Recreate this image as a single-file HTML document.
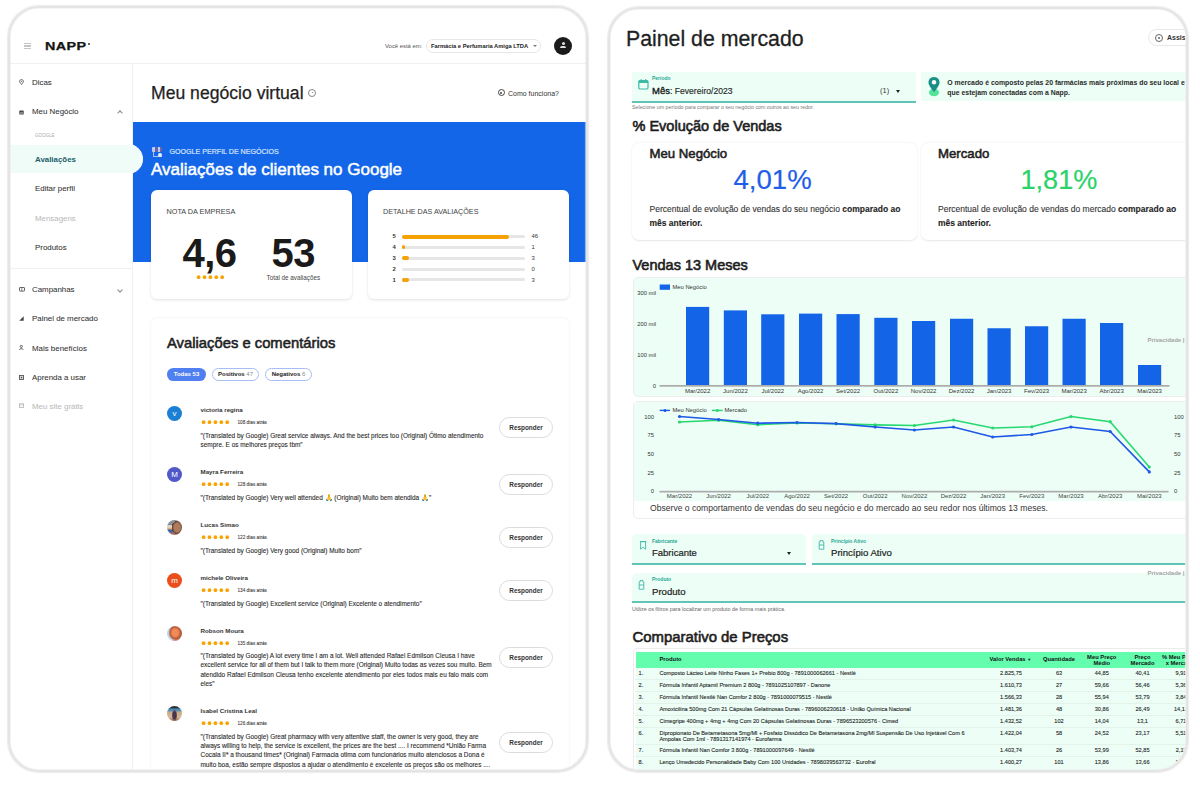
<!DOCTYPE html>
<html><head><meta charset="utf-8">
<style>
*{margin:0;padding:0;box-sizing:border-box}
html,body{width:1200px;height:794px;overflow:hidden;background:#fff;font-family:"Liberation Sans",sans-serif;color:#222}
.a{position:absolute}
.t{position:absolute;white-space:nowrap;line-height:1}
.b{font-weight:bold}
.clipL{position:absolute;left:0;top:0;width:1200px;height:794px;clip-path:inset(8px 614px 24px 10px round 29px)}
.clipR{position:absolute;left:0;top:0;width:1200px;height:794px;clip-path:inset(9px 14.5px 24px 610px round 29px)}
.fb{position:absolute;border:2px solid #e4e4e4;border-radius:31px;box-shadow:0 0 1px 0.6px #ececec, inset 0 0 1px 0.6px #ececec}
.side{color:#333;font-size:7.9px;-webkit-text-stroke-width:0.06px}
.sico{position:absolute;width:6px;height:6px}
.card{position:absolute;background:#fff;border-radius:6px;box-shadow:0 1px 3px rgba(0,0,0,0.12)}
.bar{position:absolute;height:3px;background:#e6e6e6;border-radius:2px}
.bo{position:absolute;height:4px;background:#f5a100;border-radius:2px}
.stars{position:absolute;color:#f5a100;font-size:6px;letter-spacing:0.6px;line-height:1;white-space:nowrap}
.av{position:absolute;width:15px;height:15px;border-radius:50%;color:#fff;font-size:8px;text-align:center;line-height:15px}
.rname{font-size:6.2px;font-weight:bold;color:#333}
.rdate{font-size:4.7px;color:#3a3a3a;-webkit-text-stroke-width:0.08px}
.rtxt{position:absolute;font-size:6.45px;line-height:9.4px;color:#2b2b2b;white-space:nowrap;-webkit-text-stroke-width:0.1px}
.resp{position:absolute;width:54px;height:21px;border:1px solid #dcdcdc;border-radius:11px;font-size:6.4px;font-weight:bold;color:#333;text-align:center;line-height:19px;background:#fff}
.tr{font-size:5.6px;color:#262626;-webkit-text-stroke-width:0.1px}
.th{font-size:5.8px;color:#111}
.tc{text-align:center;width:40px}
.pill{position:absolute;height:12.8px;border-radius:6.4px;font-size:6px;line-height:11.6px;text-align:center;font-weight:bold}
</style></head>
<body>
<svg width="0" height="0" style="position:absolute"><defs><circle id="st" cx="2.6" cy="3.2" r="1.85" fill="#f7a300"/><g id="st5"><use href="#st" x="0"/><use href="#st" x="5.9"/><use href="#st" x="11.8"/><use href="#st" x="17.7"/><use href="#st" x="23.6"/></g></defs></svg>
<!-- ================= LEFT FRAME ================= -->
<div class="clipL">
 <!-- header -->
 <div class="a" style="left:10px;top:63px;width:576px;height:1px;background:#f1f1f1"></div>
 <div class="a" style="left:24px;top:43px;width:7px;height:1.3px;background:#c4c4c4"></div>
 <div class="a" style="left:24px;top:45.3px;width:7px;height:1.3px;background:#c4c4c4"></div>
 <div class="a" style="left:24px;top:47.6px;width:7px;height:1.3px;background:#c4c4c4"></div>
 <div class="t b" style="left:45px;top:42.4px;font-size:10.2px;letter-spacing:0.25px;color:#151515;-webkit-text-stroke:0.25px #151515;transform:scaleX(1.41);transform-origin:0 0">NAPP</div>
 <div class="a" style="left:88px;top:43px;width:1.6px;height:1.8px;background:#333;border-radius:1px"></div>
 <div class="t" style="left:385px;top:44px;font-size:5.9px;color:#555">Você está em:</div>
 <div class="a" style="left:426px;top:39px;width:115px;height:14px;border:1px solid #e6e6e6;border-radius:7px"></div>
 <div class="t b" style="left:431px;top:44.2px;font-size:5.75px;color:#222">Farmácia e Perfumaria Amiga LTDA</div>
 <div class="a" style="left:533px;top:45px;width:0;height:0;border-left:2px solid transparent;border-right:2px solid transparent;border-top:2px solid #777"></div>
 <div class="a" style="left:554px;top:37px;width:18px;height:18px;border-radius:50%;background:#1b1b1b"></div>
 <div class="a" style="left:561.5px;top:42px;width:3px;height:3px;border-radius:50%;background:#e0e0e0"></div>
 <div class="a" style="left:560px;top:45.8px;width:6px;height:2.6px;border-radius:2px 2px 0 0;background:#e0e0e0"></div>

 <!-- sidebar -->
 <div class="a" style="left:131.5px;top:64px;width:1px;height:710px;background:#f1f1f1"></div>
 <div class="a" style="left:10px;top:268px;width:122px;height:1px;background:#f0f0f0"></div>
 <!-- highlight -->
 <div class="a" style="left:10px;top:144.5px;width:131.5px;height:28px;background:#f0fcf7;border-radius:0 14px 14px 0"></div>

 <svg class="a" style="left:18.5px;top:79px" width="5" height="6" viewBox="0 0 5 6"><path d="M2.5 0.6 C1.3 0.6 0.6 1.4 0.6 2.3 C0.6 3.5 2.5 5.5 2.5 5.5 C2.5 5.5 4.4 3.5 4.4 2.3 C4.4 1.4 3.7 0.6 2.5 0.6Z" fill="none" stroke="#555" stroke-width="0.9"/><circle cx="2.5" cy="2.3" r="0.6" fill="#555"/></svg>
 <div class="t side" style="left:32px;top:78.5px">Dicas</div>
 <svg class="a" style="left:18.5px;top:109.5px" width="5" height="5" viewBox="0 0 5 5"><rect x="0.3" y="0.6" width="4.4" height="4" rx="0.6" fill="#4a4a4a"/><rect x="1" y="2.6" width="3" height="0.8" fill="#ddd"/></svg>
 <div class="t side" style="left:32px;top:107.5px">Meu Negócio</div>
 <div class="a" style="left:117.5px;top:111px;width:4px;height:4px;border-left:0.8px solid #888;border-top:0.8px solid #888;transform:rotate(45deg)"></div>
 <div class="t" style="left:35px;top:133.5px;font-size:4.5px;color:#aaa">GOOGLE</div>
 <div class="t b" style="left:35px;top:155.7px;font-size:7.9px;color:#1c5f6a">Avaliações</div>
 <div class="t side" style="left:35px;top:185.2px">Editar perfil</div>
 <div class="t side" style="left:35px;top:215px;color:#bbb">Mensagens</div>
 <div class="t side" style="left:35px;top:244px">Produtos</div>

 <svg class="a" style="left:18.5px;top:286.5px" width="6" height="5" viewBox="0 0 6 5"><rect x="0.5" y="0.5" width="5" height="3.6" rx="0.5" fill="none" stroke="#555" stroke-width="0.9"/><line x1="2.8" y1="0.8" x2="2.8" y2="4" stroke="#555" stroke-width="0.7"/></svg>
 <div class="t side" style="left:32px;top:286.0px">Campanhas</div>
 <div class="a" style="left:117.5px;top:287.5px;width:4px;height:4px;border-right:0.8px solid #888;border-bottom:0.8px solid #888;transform:rotate(45deg)"></div>
 <svg class="a" style="left:18.5px;top:316px" width="5" height="5" viewBox="0 0 5 5"><path d="M0.3 4.7 L4.7 0.3 L4.7 4.7 Z" fill="#444"/></svg>
 <div class="t side" style="left:32px;top:315.0px">Painel de mercado</div>
 <svg class="a" style="left:18.5px;top:345px" width="5" height="5" viewBox="0 0 5 5"><circle cx="2.3" cy="1.4" r="1.1" fill="none" stroke="#555" stroke-width="0.9"/><path d="M0.4 4.8 C0.4 3.2 4.2 3.2 4.2 4.8" fill="none" stroke="#555" stroke-width="0.9"/></svg>
 <div class="t side" style="left:32px;top:344.5px">Mais benefícios</div>
 <svg class="a" style="left:18.5px;top:374.5px" width="5" height="5" viewBox="0 0 5 5"><rect x="0.5" y="0.5" width="4" height="4" fill="none" stroke="#555" stroke-width="0.9"/><rect x="1.6" y="1.6" width="1.8" height="1.8" fill="#555"/></svg>
 <div class="t side" style="left:32px;top:373.5px">Aprenda a usar</div>
 <svg class="a" style="left:18.5px;top:403px" width="5" height="5" viewBox="0 0 5 5"><rect x="0.5" y="0.8" width="4" height="3.7" fill="none" stroke="#bbb" stroke-width="0.9"/><line x1="0.5" y1="2" x2="4.5" y2="2" stroke="#bbb" stroke-width="0.6"/></svg>
 <div class="t side" style="left:32px;top:403.0px;color:#bbb">Meu site grátis</div>

 <!-- main title -->
 <div class="t" style="left:151px;top:85px;font-size:17.6px;color:#1f1f1f;-webkit-text-stroke-width:0.25px">Meu negócio virtual</div>
 <div class="a" style="left:308px;top:88.5px;width:8px;height:8px;border:1px solid #888;border-radius:50%"></div><div class="a" style="left:311.6px;top:91.8px;width:1.2px;height:1.6px;background:#888"></div>
 <div class="a" style="left:497.5px;top:89px;width:7px;height:7px;border:1.2px solid #444;border-radius:50%"></div>
 <div class="a" style="left:500px;top:91.5px;width:2px;height:2px;background:#444;border-radius:50%"></div>
 <div class="t" style="left:508px;top:90px;font-size:7px;color:#333">Como funciona?</div>

 <!-- blue banner -->
 <div class="a" style="left:133px;top:121.5px;width:460px;height:140.5px;background:#1366e8"></div>
 <div class="a" style="left:133px;top:262px;width:460px;height:520px;background:#fff"></div>
 <!-- highlight bump over banner -->
 <div class="a" style="left:118px;top:143.5px;width:24.5px;height:30px;background:#f0fcf7;border:1.2px solid #fff;border-left:none;border-radius:0 15px 15px 0"></div>

 <div class="a" style="left:152px;top:146.5px;width:3px;height:5px;background:#b9cdf3;border-radius:1px 0 0 1px"></div><div class="a" style="left:155px;top:146.5px;width:2.5px;height:5px;background:#6d63a8"></div><div class="a" style="left:157.5px;top:146.5px;width:2.5px;height:5px;background:#b9cdf3"></div><div class="a" style="left:160px;top:146.5px;width:2px;height:5px;background:#6d63a8;border-radius:0 1px 1px 0"></div><div class="a" style="left:152.5px;top:151.5px;width:9px;height:5px;border-left:1px solid #a8c0f0;border-bottom:1px solid #a8c0f0"></div><div class="a" style="left:158px;top:152.5px;width:4px;height:4px;background:#e8eefc;border-radius:50%"></div>
 <div class="t" style="left:169.5px;top:148.5px;font-size:7.1px;color:#d5e3fb;-webkit-text-stroke-width:0.2px">GOOGLE PERFIL DE NEGÓCIOS</div>
 <div class="t" style="left:151px;top:161px;font-size:17px;color:#fff;-webkit-text-stroke:0.5px #fff">Avaliações de clientes no Google</div>

 <!-- cards -->
 <div class="card" style="left:151px;top:190px;width:201px;height:109px"></div>
 <div class="t" style="left:166.5px;top:207.5px;font-size:7.3px;color:#444">NOTA DA EMPRESA</div>
 <div class="t b" style="left:182.5px;top:232.5px;font-size:40px;color:#1a1a1a;letter-spacing:-0.5px">4,6</div>
 <svg class="a" style="left:196.0px;top:273.8px" width="30" height="6"><use href="#st5"/></svg>
 <div class="t b" style="left:271.5px;top:232.5px;font-size:40px;color:#1a1a1a;letter-spacing:-0.5px">53</div>
 <div class="t" style="left:266.5px;top:274.5px;font-size:6.3px;color:#444">Total de avaliações</div>

 <div class="card" style="left:368px;top:190px;width:201px;height:109px"></div>
 <div class="t" style="left:383px;top:207.5px;font-size:7.2px;color:#444">DETALHE DAS AVALIAÇÕES</div>
 <div class="t b" style="left:392.5px;top:234.2px;font-size:5.9px;color:#333">5</div>
 <div class="bar" style="left:402px;top:235px;width:123px"></div><div class="bo" style="left:402px;top:234.5px;width:107px"></div>
 <div class="t" style="left:531.5px;top:234.2px;font-size:5.9px;color:#333">46</div>
 <div class="t b" style="left:392.5px;top:245px;font-size:5.9px;color:#333">4</div>
 <div class="bar" style="left:402px;top:245.5px;width:123px"></div><div class="bo" style="left:402px;top:245px;width:3px"></div>
 <div class="t" style="left:531.5px;top:245px;font-size:5.9px;color:#333">1</div>
 <div class="t b" style="left:392.5px;top:255.8px;font-size:5.9px;color:#333">3</div>
 <div class="bar" style="left:402px;top:256.5px;width:123px"></div><div class="bo" style="left:402px;top:256px;width:7px"></div>
 <div class="t" style="left:531.5px;top:255.8px;font-size:5.9px;color:#333">3</div>
 <div class="t b" style="left:392.5px;top:266.6px;font-size:5.9px;color:#333">2</div>
 <div class="bar" style="left:402px;top:267.5px;width:123px"></div>
 <div class="t" style="left:531.5px;top:266.6px;font-size:5.9px;color:#333">0</div>
 <div class="t b" style="left:392.5px;top:277.6px;font-size:5.9px;color:#333">1</div>
 <div class="bar" style="left:402px;top:278px;width:123px"></div><div class="bo" style="left:402px;top:277.5px;width:7px"></div>
 <div class="t" style="left:531.5px;top:277.6px;font-size:5.9px;color:#333">3</div>

 <!-- comments card -->
 <div class="card" style="left:151px;top:318px;width:418px;height:470px;box-shadow:0 0 2px rgba(0,0,0,0.10)"></div>
 <div class="t" style="left:167px;top:335.6px;font-size:14.8px;color:#1e1e1e;-webkit-text-stroke-width:0.55px">Avaliações e comentários</div>
 <div class="pill" style="left:167px;top:368px;width:39px;background:#4f7ff0;color:#fff;line-height:12.8px">Todas 53</div>
 <div class="pill" style="left:212px;top:368px;width:47px;border:1.2px solid #a6bdf6;color:#222">Positivos <span style="font-weight:normal;color:#888">47</span></div>
 <div class="pill" style="left:265px;top:368px;width:47px;border:1.2px solid #a6bdf6;color:#222">Negativos <span style="font-weight:normal;color:#888">6</span></div>

 <!-- reviews -->
 <div class="av" style="left:167px;top:405.5px;background:#1b7fd4">v</div>
 <div class="t rname" style="left:200.5px;top:406.8px">victoria regina</div>
 <svg class="a" style="left:200.5px;top:419.3px" width="30" height="6"><use href="#st5"/></svg>
 <div class="t rdate" style="left:237.5px;top:420.8px">108 dias atrás</div>
 <div class="rtxt" style="left:200.5px;top:430.5px">"(Translated by Google) Great service always. And the best prices too (Original) Ótimo atendimento<br>sempre. E os melhores preços tbm"</div>
 <div class="resp" style="left:499px;top:416.5px">Responder</div>

 <div class="av" style="left:167px;top:467px;background:#5159c9">M</div>
 <div class="t rname" style="left:200.5px;top:468.8px">Mayra Ferreira</div>
 <svg class="a" style="left:200.5px;top:481.3px" width="30" height="6"><use href="#st5"/></svg>
 <div class="t rdate" style="left:237.5px;top:482.8px">128 dias atrás</div>
 <div class="rtxt" style="left:200.5px;top:492.5px">"(Translated by Google) Very well attended 🙏 (Original) Muito bem atendida 🙏"</div>
 <div class="resp" style="left:499px;top:474px">Responder</div>

 <div class="av" style="left:167px;top:520px;background:radial-gradient(ellipse 35% 45% at 68% 50%,#b07a5e 0 60%,#5a3a2a 100%,transparent 101%),linear-gradient(180deg,#8a8f96 0 30%,#e6e6e6 40%,#e9b98a 55%,#2f62a6 70%,#c87a5a 100%)"></div>
 <div class="t rname" style="left:200.5px;top:521.8px">Lucas Simao</div>
 <svg class="a" style="left:200.5px;top:534.3px" width="30" height="6"><use href="#st5"/></svg>
 <div class="t rdate" style="left:237.5px;top:535.8px">122 dias atrás</div>
 <div class="rtxt" style="left:200.5px;top:546px">"(Translated by Google) Very good (Original) Muito bom"</div>
 <div class="resp" style="left:499px;top:526.5px">Responder</div>

 <div class="av" style="left:167px;top:573px;background:#ea4e1b">m</div>
 <div class="t rname" style="left:200.5px;top:574.8px">michele Oliveira</div>
 <svg class="a" style="left:200.5px;top:587.3px" width="30" height="6"><use href="#st5"/></svg>
 <div class="t rdate" style="left:237.5px;top:588.8px">134 dias atrás</div>
 <div class="rtxt" style="left:200.5px;top:598.5px">"(Translated by Google) Excellent service (Original) Excelente o atendimento"</div>
 <div class="resp" style="left:499px;top:580px">Responder</div>

 <div class="av" style="left:167px;top:625.5px;background:radial-gradient(ellipse 45% 50% at 55% 45%,#f08a58 0 45%,#b85a38 80%,transparent 100%),linear-gradient(90deg,#bcd4e6 0 30%,#d98060 60%,#a85a3a 100%)"></div>
 <div class="t rname" style="left:200.5px;top:627.8px">Robson Moura</div>
 <svg class="a" style="left:200.5px;top:640.3px" width="30" height="6"><use href="#st5"/></svg>
 <div class="t rdate" style="left:237.5px;top:641.8px">135 dias atrás</div>
 <div class="rtxt" style="left:200.5px;top:651px">"(Translated by Google) A lot every time I am a lot. Well attended Rafael Edmilson Cleusa I have<br>excellent service for all of them but I talk to them more (Original) Muito todas as vezes sou muito. Bem<br>atendido Rafael Edmilson Cleusa tenho excelente atendimento por eles todos mais eu falo mais com<br>eles"</div>
 <div class="resp" style="left:499px;top:646.5px">Responder</div>

 <div class="av" style="left:167px;top:706px;background:radial-gradient(ellipse 20% 40% at 50% 62%,#4a3550 0 60%,transparent 100%),linear-gradient(180deg,#2a3038 0 12%,#4a86b0 20%,#5a90b8 32%,#c9aa88 40%,#d8b896 75%,#a06a50 100%)"></div>
 <div class="t rname" style="left:200.5px;top:708.3px">Isabel Cristina Leal</div>
 <svg class="a" style="left:200.5px;top:720.3px" width="30" height="6"><use href="#st5"/></svg>
 <div class="t rdate" style="left:237.5px;top:721.8px">126 dias atrás</div>
 <div class="rtxt" style="left:200.5px;top:731.5px">"(Translated by Google) Great pharmacy with very attentive staff, the owner is very good, they are<br>always willing to help, the service is excellent, the prices are the best .... I recommend *União Farma<br>Cocaia II* a thousand times* (Original) Farmacia otima com funcionários muito atenciosos a Dona é<br>muito boa, estão sempre dispostos a ajudar o atendimento é excelente os preços são os melhores ....</div>
 <div class="resp" style="left:499px;top:731.5px">Responder</div>
</div>
<div class="fb" style="left:7.8px;top:6px;width:580.6px;height:766px"></div>

<!-- ================= RIGHT FRAME ================= -->
<div class="clipR">
 <div class="t" style="left:626px;top:28.8px;font-size:21.3px;color:#1f1f1f;-webkit-text-stroke-width:0.3px">Painel de mercado</div>
 <div class="a" style="left:1148px;top:29px;width:60px;height:17px;border:1px solid #e8e8e8;border-radius:9px"></div>
 <div class="a" style="left:1155px;top:33.5px;width:8px;height:8px;border:1px solid #666;border-radius:50%"></div>
 <div class="a" style="left:1158px;top:36.5px;width:2px;height:2px;background:#666;border-radius:50%"></div>
 <div class="t b" style="left:1167px;top:33.7px;font-size:7px;color:#333">Assistente</div>

 <!-- periodo -->
 <div class="a" style="left:632px;top:71.5px;width:284px;height:31.2px;background:#ecfef6;border-bottom:2px solid #60c5b6"></div>
 <svg class="a" style="left:637.5px;top:79px" width="11" height="11" viewBox="0 0 11 11"><rect x="0.8" y="1.6" width="9.2" height="8.4" rx="1.2" fill="none" stroke="#3fb8a6" stroke-width="1.2"/><rect x="0.8" y="1.6" width="9.2" height="2.4" fill="#3fb8a6"/><rect x="2.6" y="0.2" width="1.2" height="2" fill="#3fb8a6"/><rect x="7" y="0.2" width="1.2" height="2" fill="#3fb8a6"/></svg>
 <div class="t" style="left:652px;top:76px;font-size:5px;color:#2aa894;font-weight:bold">Período</div>
 <div class="t" style="left:652px;top:86.2px;font-size:8.6px;color:#2a2a2a;-webkit-text-stroke-width:0.15px"><span style="font-size:9.5px;color:#111;-webkit-text-stroke-width:0.3px">Mês</span>: Fevereiro/2023</div>
 <div class="t" style="left:880px;top:87px;font-size:7.5px;color:#333">(1)</div>
 <div class="a" style="left:895.5px;top:89.5px;width:0;height:0;border-left:2.5px solid transparent;border-right:2.5px solid transparent;border-top:3px solid #222"></div>
 <div class="t" style="left:632px;top:104.5px;font-size:5.3px;color:#777">Selecione um período para comparar o seu negócio com outros ao seu redor.</div>

 <div class="a" style="left:921px;top:72px;width:270px;height:29px;background:#ecfef6"></div>
 <svg class="a" style="left:927px;top:76px" width="14" height="21" viewBox="0 0 14 21"><ellipse cx="7" cy="16.5" rx="5" ry="3.8" fill="#53e39a"/><path d="M7 1 C3.3 1 1.5 3.8 1.5 6.5 C1.5 10 7 16 7 16 C7 16 12.5 10 12.5 6.5 C12.5 3.8 10.7 1 7 1Z" fill="#178f86"/><circle cx="7" cy="6.3" r="2.2" fill="#fff"/></svg>
 <div class="t b" style="left:947.3px;top:77.8px;font-size:6.9px;color:#2a2a2a;line-height:9.8px">O mercado é composto pelas 20 farmácias mais próximas do seu local e<br>que estejam conectadas com a Napp.</div>

 <div class="t" style="left:632.5px;top:119px;font-size:14.5px;color:#1e1e1e;-webkit-text-stroke-width:0.6px">% Evolução de Vendas</div>

 <div class="card" style="left:632px;top:143px;width:285px;height:97px;box-shadow:0 0.5px 2px rgba(0,0,0,0.10);border-radius:7px"></div>
 <div class="t" style="left:649.5px;top:146.8px;font-size:13.2px;color:#1e1e1e;-webkit-text-stroke-width:0.55px">Meu Negócio</div>
 <div class="t" style="left:733.5px;top:165.5px;font-size:27.6px;color:#1f5ee8;-webkit-text-stroke-width:0.2px">4,01%</div>
 <div class="t" style="left:649.5px;top:202px;font-size:8.5px;color:#333;line-height:14.3px;-webkit-text-stroke-width:0.1px">Percentual de evolução de vendas do seu negócio <b style="color:#1f1f1f">comparado ao</b><br><b style="color:#1f1f1f">mês anterior.</b></div>

 <div class="card" style="left:921px;top:143px;width:290px;height:97px;box-shadow:0 0.5px 2px rgba(0,0,0,0.10);border-radius:7px"></div>
 <div class="t" style="left:938px;top:146.8px;font-size:13.2px;color:#1e1e1e;-webkit-text-stroke-width:0.55px">Mercado</div>
 <div class="t" style="left:1020.5px;top:165.5px;font-size:27.1px;color:#2ad26a;-webkit-text-stroke-width:0.2px">1,81%</div>
 <div class="t" style="left:938px;top:202px;font-size:8.5px;color:#333;line-height:14.3px;-webkit-text-stroke-width:0.1px">Percentual de evolução de vendas do mercado <b style="color:#1f1f1f">comparado ao</b><br><b style="color:#1f1f1f">mês anterior.</b></div>

 <div class="t" style="left:632.5px;top:257.8px;font-size:14.5px;color:#1e1e1e;-webkit-text-stroke-width:0.6px">Vendas 13 Meses</div>

 <div class="a" style="left:632.5px;top:276.5px;width:570px;height:120.5px;background:#ecfef6;border:1px solid #eceeed;border-radius:5px"></div>
 <div class="a" style="left:632.5px;top:400.5px;width:570px;height:118px;background:#fff;border:1px solid #eceeed;border-radius:5px"></div>
 <div class="a" style="left:633.5px;top:401.5px;width:568px;height:99px;background:#ecfef6;border-radius:6px 6px 0 0"></div>
 <div class="t" style="left:1147.5px;top:336.5px;font-size:6px;color:#a5a5a5;font-weight:bold">Privacidade |</div>
 <div class="t" style="left:650px;top:503.5px;font-size:8.6px;color:#333">Observe o comportamento de vendas do seu negócio e do mercado ao seu redor nos últimos 13 meses.</div>
 <svg class="a" style="left:0;top:0" width="1200" height="794" font-family="Liberation Sans, sans-serif">
<rect x="686" y="306.9" width="23.2" height="78.60" fill="#1464e8"/>
<rect x="723.8" y="310.4" width="23.2" height="75.10" fill="#1464e8"/>
<rect x="761.2" y="314.3" width="23.2" height="71.20" fill="#1464e8"/>
<rect x="799" y="313.6" width="23.2" height="71.90" fill="#1464e8"/>
<rect x="836.5" y="314.1" width="23.2" height="71.40" fill="#1464e8"/>
<rect x="874.3" y="317.8" width="23.2" height="67.70" fill="#1464e8"/>
<rect x="912" y="321" width="23.2" height="64.50" fill="#1464e8"/>
<rect x="950" y="318.75" width="23.2" height="66.75" fill="#1464e8"/>
<rect x="987.5" y="328.25" width="23.2" height="57.25" fill="#1464e8"/>
<rect x="1025" y="326.25" width="23.2" height="59.25" fill="#1464e8"/>
<rect x="1062.5" y="318.75" width="23.2" height="66.75" fill="#1464e8"/>
<rect x="1100" y="323" width="23.2" height="62.50" fill="#1464e8"/>
<rect x="1138" y="365" width="23.2" height="20.50" fill="#1464e8"/>
<rect x="659.5" y="385" width="510" height="1.7" fill="#ababab"/>
<text x="697.6" y="393" text-anchor="middle" font-size="6" fill="#333">Mar/2022</text>
<text x="735.4" y="393" text-anchor="middle" font-size="6" fill="#333">Jun/2022</text>
<text x="772.8" y="393" text-anchor="middle" font-size="6" fill="#333">Jul/2022</text>
<text x="810.6" y="393" text-anchor="middle" font-size="6" fill="#333">Ago/2022</text>
<text x="848.1" y="393" text-anchor="middle" font-size="6" fill="#333">Set/2022</text>
<text x="885.9" y="393" text-anchor="middle" font-size="6" fill="#333">Out/2022</text>
<text x="923.6" y="393" text-anchor="middle" font-size="6" fill="#333">Nov/2022</text>
<text x="961.6" y="393" text-anchor="middle" font-size="6" fill="#333">Dez/2022</text>
<text x="999.1" y="393" text-anchor="middle" font-size="6" fill="#333">Jan/2023</text>
<text x="1036.6" y="393" text-anchor="middle" font-size="6" fill="#333">Fev/2023</text>
<text x="1074.1" y="393" text-anchor="middle" font-size="6" fill="#333">Mar/2023</text>
<text x="1111.6" y="393" text-anchor="middle" font-size="6" fill="#333">Abr/2023</text>
<text x="1149.6" y="393" text-anchor="middle" font-size="6" fill="#333">Mai/2023</text>
<text x="656" y="295.3" text-anchor="end" font-size="5.8" fill="#333">300 mil</text>
<text x="656" y="326.1" text-anchor="end" font-size="5.8" fill="#333">200 mil</text>
<text x="656" y="356.5" text-anchor="end" font-size="5.8" fill="#333">100 mil</text>
<text x="656" y="387.5" text-anchor="end" font-size="5.8" fill="#333">0</text>
<rect x="659.5" y="490.8" width="509" height="1.7" fill="#ababab"/>
<polyline points="679.5,422.0 718.6,420.2 757.8,424.7 797.0,423.0 836.1,423.7 875.2,424.9 914.4,425.5 953.5,420.0 992.7,428.0 1031.8,426.8 1071.0,416.5 1110.2,421.7 1149.3,467.0" fill="none" stroke="#26d870" stroke-width="1.6"/>
<polyline points="679.5,416.5 718.6,419.5 757.8,423.2 797.0,422.5 836.1,423.6 875.2,427.0 914.4,430.0 953.5,427.0 992.7,437.0 1031.8,434.5 1071.0,427.0 1110.2,431.5 1149.3,471.9" fill="none" stroke="#1f57e6" stroke-width="1.6"/>
<circle cx="679.5" cy="422.0" r="1.6" fill="#26d870"/>
<circle cx="718.6" cy="420.2" r="1.6" fill="#26d870"/>
<circle cx="757.8" cy="424.7" r="1.6" fill="#26d870"/>
<circle cx="797.0" cy="423.0" r="1.6" fill="#26d870"/>
<circle cx="836.1" cy="423.7" r="1.6" fill="#26d870"/>
<circle cx="875.2" cy="424.9" r="1.6" fill="#26d870"/>
<circle cx="914.4" cy="425.5" r="1.6" fill="#26d870"/>
<circle cx="953.5" cy="420.0" r="1.6" fill="#26d870"/>
<circle cx="992.7" cy="428.0" r="1.6" fill="#26d870"/>
<circle cx="1031.8" cy="426.8" r="1.6" fill="#26d870"/>
<circle cx="1071.0" cy="416.5" r="1.6" fill="#26d870"/>
<circle cx="1110.2" cy="421.7" r="1.6" fill="#26d870"/>
<circle cx="1149.3" cy="467.0" r="1.6" fill="#26d870"/>
<circle cx="679.5" cy="416.5" r="1.6" fill="#1f57e6"/>
<circle cx="718.6" cy="419.5" r="1.6" fill="#1f57e6"/>
<circle cx="757.8" cy="423.2" r="1.6" fill="#1f57e6"/>
<circle cx="797.0" cy="422.5" r="1.6" fill="#1f57e6"/>
<circle cx="836.1" cy="423.6" r="1.6" fill="#1f57e6"/>
<circle cx="875.2" cy="427.0" r="1.6" fill="#1f57e6"/>
<circle cx="914.4" cy="430.0" r="1.6" fill="#1f57e6"/>
<circle cx="953.5" cy="427.0" r="1.6" fill="#1f57e6"/>
<circle cx="992.7" cy="437.0" r="1.6" fill="#1f57e6"/>
<circle cx="1031.8" cy="434.5" r="1.6" fill="#1f57e6"/>
<circle cx="1071.0" cy="427.0" r="1.6" fill="#1f57e6"/>
<circle cx="1110.2" cy="431.5" r="1.6" fill="#1f57e6"/>
<circle cx="1149.3" cy="471.9" r="1.6" fill="#1f57e6"/>
<text x="679.5" y="497.8" text-anchor="middle" font-size="6" fill="#444">Mar/2022</text>
<text x="718.6" y="497.8" text-anchor="middle" font-size="6" fill="#444">Jun/2022</text>
<text x="757.8" y="497.8" text-anchor="middle" font-size="6" fill="#444">Jul/2022</text>
<text x="797.0" y="497.8" text-anchor="middle" font-size="6" fill="#444">Ago/2022</text>
<text x="836.1" y="497.8" text-anchor="middle" font-size="6" fill="#444">Set/2022</text>
<text x="875.2" y="497.8" text-anchor="middle" font-size="6" fill="#444">Out/2022</text>
<text x="914.4" y="497.8" text-anchor="middle" font-size="6" fill="#444">Nov/2022</text>
<text x="953.5" y="497.8" text-anchor="middle" font-size="6" fill="#444">Dez/2022</text>
<text x="992.7" y="497.8" text-anchor="middle" font-size="6" fill="#444">Jan/2023</text>
<text x="1031.8" y="497.8" text-anchor="middle" font-size="6" fill="#444">Fev/2023</text>
<text x="1071.0" y="497.8" text-anchor="middle" font-size="6" fill="#444">Mar/2023</text>
<text x="1110.2" y="497.8" text-anchor="middle" font-size="6" fill="#444">Abr/2023</text>
<text x="1149.3" y="497.8" text-anchor="middle" font-size="6" fill="#444">Mai/2023</text>
<text x="654" y="418.5" text-anchor="end" font-size="5.8" fill="#333">100</text>
<text x="1174" y="418.5" font-size="5.8" fill="#333">100</text>
<text x="654" y="437.4" text-anchor="end" font-size="5.8" fill="#333">75</text>
<text x="1174" y="437.4" font-size="5.8" fill="#333">75</text>
<text x="654" y="456.0" text-anchor="end" font-size="5.8" fill="#333">50</text>
<text x="1174" y="456.0" font-size="5.8" fill="#333">50</text>
<text x="654" y="474.7" text-anchor="end" font-size="5.8" fill="#333">25</text>
<text x="1174" y="474.7" font-size="5.8" fill="#333">25</text>
<text x="654" y="493.4" text-anchor="end" font-size="5.8" fill="#333">0</text>
<text x="1174" y="493.4" font-size="5.8" fill="#333">0</text>
<rect x="659.7" y="284.5" width="10.3" height="5.3" fill="#1464e8"/>
<text x="672.5" y="289" font-size="5.8" fill="#333">Meu Negócio</text>
<line x1="659.7" y1="410.4" x2="670" y2="410.4" stroke="#1f57e6" stroke-width="1.4"/><circle cx="665" cy="410.4" r="1.5" fill="#1f57e6"/>
<text x="672.5" y="412.4" font-size="5.8" fill="#333">Meu Negócio</text>
<line x1="712" y1="410.4" x2="722.7" y2="410.4" stroke="#26d870" stroke-width="1.4"/><circle cx="717.3" cy="410.4" r="1.5" fill="#26d870"/>
<text x="724.5" y="412.4" font-size="5.8" fill="#333">Mercado</text>
 </svg>

 <!-- filters -->
 <div class="a" style="left:632px;top:534px;width:174px;height:30.8px;background:#ecfef6;border-bottom:2px solid #60c5b6;border-radius:5px 5px 0 0"></div>
 <svg class="a" style="left:639.5px;top:541px" width="7" height="9" viewBox="0 0 7 9"><path d="M0.6 0.6 H5.6 V8.2 L3.1 6.2 L0.6 8.2 Z M0 0.6 H6.4" fill="none" stroke="#3fb8a6" stroke-width="0.9"/></svg>
 <div class="t" style="left:652px;top:538.5px;font-size:5px;color:#2aa894;font-weight:bold">Fabricante</div>
 <div class="t" style="left:652px;top:548px;font-size:9.5px;color:#222;-webkit-text-stroke-width:0.2px">Fabricante</div>
 <div class="a" style="left:787px;top:551.5px;width:0;height:0;border-left:2.5px solid transparent;border-right:2.5px solid transparent;border-top:3px solid #222"></div>

 <div class="a" style="left:811.5px;top:534px;width:380px;height:30.8px;background:#ecfef6;border-bottom:2px solid #60c5b6;border-radius:5px 5px 0 0"></div>
 <svg class="a" style="left:818px;top:540px" width="7" height="10" viewBox="0 0 7 10"><path d="M2 0.6 H5 V2.2 H5.8 V9.2 H1.2 V2.2 H2 Z M1.2 5 H5.8" fill="none" stroke="#3fb8a6" stroke-width="0.9"/></svg>
 <div class="t" style="left:831px;top:538.5px;font-size:5px;color:#2aa894;font-weight:bold">Princípio Ativo</div>
 <div class="t" style="left:831px;top:548px;font-size:9.6px;color:#222;-webkit-text-stroke-width:0.2px">Princípio Ativo</div>

 <div class="a" style="left:632px;top:573px;width:560px;height:30px;background:#ecfef6;border-bottom:2px solid #60c5b6;border-radius:5px 5px 0 0"></div>
 <svg class="a" style="left:637.5px;top:579.5px" width="7" height="10" viewBox="0 0 7 10"><path d="M2 0.6 H5 V2.2 H5.8 V9.2 H1.2 V2.2 H2 Z M1.2 5 H5.8" fill="none" stroke="#3fb8a6" stroke-width="0.9"/></svg>
 <div class="t" style="left:652px;top:576.5px;font-size:5px;color:#2aa894;font-weight:bold">Produto</div>
 <div class="t" style="left:652px;top:586.5px;font-size:9.6px;color:#222;-webkit-text-stroke-width:0.2px">Produto</div>
 <div class="t" style="left:1147.5px;top:570px;font-size:6px;color:#a5a5a5;font-weight:bold">Privacidade |</div>
 <div class="t" style="left:632px;top:606.5px;font-size:5.4px;color:#666">Utilize os filtros para localizar um produto de forma mais prática.</div>

 <div class="t" style="left:632.5px;top:629.5px;font-size:14.9px;color:#1e1e1e;-webkit-text-stroke-width:0.6px">Comparativo de Preços</div>

 <!-- table -->
 <div class="a" style="left:632.5px;top:648px;width:570px;height:130px;background:#fff;border:1px solid #ececec;border-radius:4px"></div>
 <div class="a" style="left:635.5px;top:652px;width:560px;height:123px;background:#ecfef6"></div>
 <div class="a" style="left:635.5px;top:652px;width:560px;height:15.5px;background:#64fdae"></div>
 <div class="t b th" style="left:659.4px;top:656.5px">Produto</div>
 <div class="t b th" style="left:989.5px;top:656.5px">Valor Vendas <span style="font-size:4px">▼</span></div>
 <div class="t b th tc" style="left:1039px;top:656.5px;width:40px">Quantidade</div>
 <div class="t b th tc" style="left:1081.75px;top:655px;width:40px;line-height:5.5px">Meu Preço<br>Médio</div>
 <div class="t b th tc" style="left:1122.5px;top:655px;width:40px;line-height:5.5px">Preço<br>Mercado</div>
 <div class="t b th tc" style="left:1160px;top:655px;width:40px;line-height:5.5px">% Meu Preço<br>x Mercado</div>
 <div class="t tr" style="left:638.6px;top:671.4px">1.</div>
 <div class="t tr" style="left:659.4px;top:671.4px;">Composto Lácteo Leite Ninho Fases 1+ Prebio 800g - 7891000062661 - Nestlé</div>
 <div class="t tr tc" style="left:991px;top:671.4px">2.825,75</div>
 <div class="t tr tc" style="left:1039px;top:671.4px">63</div>
 <div class="t tr tc" style="left:1081.75px;top:671.4px">44,85</div>
 <div class="t tr tc" style="left:1122.5px;top:671.4px">40,41</div>
 <div class="t tr tc" style="left:1161px;top:671.4px">9,91</div>
 <div class="t tr" style="left:638.6px;top:683.4px">2.</div>
 <div class="t tr" style="left:659.4px;top:683.4px;">Fórmula Infantil Aptamil Premium 2 800g - 7891025107897 - Danone</div>
 <div class="t tr tc" style="left:991px;top:683.4px">1.610,73</div>
 <div class="t tr tc" style="left:1039px;top:683.4px">27</div>
 <div class="t tr tc" style="left:1081.75px;top:683.4px">59,66</div>
 <div class="t tr tc" style="left:1122.5px;top:683.4px">56,46</div>
 <div class="t tr tc" style="left:1161px;top:683.4px">5,36</div>
 <div class="t tr" style="left:638.6px;top:695.2px">3.</div>
 <div class="t tr" style="left:659.4px;top:695.2px;">Fórmula Infantil Nestlé Nan Comfor 2 800g - 7891000079515 - Nestlé</div>
 <div class="t tr tc" style="left:991px;top:695.2px">1.566,33</div>
 <div class="t tr tc" style="left:1039px;top:695.2px">28</div>
 <div class="t tr tc" style="left:1081.75px;top:695.2px">55,94</div>
 <div class="t tr tc" style="left:1122.5px;top:695.2px">53,79</div>
 <div class="t tr tc" style="left:1161px;top:695.2px">3,84</div>
 <div class="t tr" style="left:638.6px;top:707.2px">4.</div>
 <div class="t tr" style="left:659.4px;top:707.2px;">Amoxicilina 500mg Com 21 Cápsulas Gelatinosas Duras - 7896006230618 - União Química Nacional</div>
 <div class="t tr tc" style="left:991px;top:707.2px">1.481,36</div>
 <div class="t tr tc" style="left:1039px;top:707.2px">48</div>
 <div class="t tr tc" style="left:1081.75px;top:707.2px">30,86</div>
 <div class="t tr tc" style="left:1122.5px;top:707.2px">26,49</div>
 <div class="t tr tc" style="left:1161px;top:707.2px">14,13</div>
 <div class="t tr" style="left:638.6px;top:719.2px">5.</div>
 <div class="t tr" style="left:659.4px;top:719.2px;">Cimegripe 400mg + 4mg + 4mg Com 20 Cápsulas Gelatinosas Duras - 7896523200576 - Cimed</div>
 <div class="t tr tc" style="left:991px;top:719.2px">1.432,52</div>
 <div class="t tr tc" style="left:1039px;top:719.2px">102</div>
 <div class="t tr tc" style="left:1081.75px;top:719.2px">14,04</div>
 <div class="t tr tc" style="left:1122.5px;top:719.2px">13,1</div>
 <div class="t tr tc" style="left:1161px;top:719.2px">6,71</div>
 <div class="t tr" style="left:638.6px;top:731.1px">6.</div>
 <div class="t tr" style="left:659.4px;top:731.1px;line-height:5.6px;">Dipropionato De Betametasona 5mg/Ml + Fosfato Dissódico De Betametasona 2mg/Ml Suspensão De Uso Injetável Com 6<br>Ampolas Com 1ml - 7891317141974 - Eurofarma</div>
 <div class="t tr tc" style="left:991px;top:731.1px">1.422,04</div>
 <div class="t tr tc" style="left:1039px;top:731.1px">58</div>
 <div class="t tr tc" style="left:1081.75px;top:731.1px">24,52</div>
 <div class="t tr tc" style="left:1122.5px;top:731.1px">23,17</div>
 <div class="t tr tc" style="left:1161px;top:731.1px">5,51</div>
 <div class="t tr" style="left:638.6px;top:748.3px">7.</div>
 <div class="t tr" style="left:659.4px;top:748.3px;">Fórmula Infantil Nan Comfor 3 800g - 7891000097649 - Nestlé</div>
 <div class="t tr tc" style="left:991px;top:748.3px">1.403,74</div>
 <div class="t tr tc" style="left:1039px;top:748.3px">26</div>
 <div class="t tr tc" style="left:1081.75px;top:748.3px">53,99</div>
 <div class="t tr tc" style="left:1122.5px;top:748.3px">52,85</div>
 <div class="t tr tc" style="left:1161px;top:748.3px">2,11</div>
 <div class="t tr" style="left:638.6px;top:760.3px">8.</div>
 <div class="t tr" style="left:659.4px;top:760.3px;">Lenço Umedecido Personalidade Baby Com 100 Unidades - 7898039563732 - Eurofral</div>
 <div class="t tr tc" style="left:991px;top:760.3px">1.400,27</div>
 <div class="t tr tc" style="left:1039px;top:760.3px">101</div>
 <div class="t tr tc" style="left:1081.75px;top:760.3px">13,86</div>
 <div class="t tr tc" style="left:1122.5px;top:760.3px">13,66</div>
 <div class="t tr tc" style="left:1161px;top:760.3px">1,51</div>
 <div class="a" style="left:635px;top:679.4px;width:560px;height:1px;background:#e3f3ea"></div>
 <div class="a" style="left:635px;top:691.4px;width:560px;height:1px;background:#e3f3ea"></div>
 <div class="a" style="left:635px;top:703.4px;width:560px;height:1px;background:#e3f3ea"></div>
 <div class="a" style="left:635px;top:715.4px;width:560px;height:1px;background:#e3f3ea"></div>
 <div class="a" style="left:635px;top:727.4px;width:560px;height:1px;background:#e3f3ea"></div>
 <div class="a" style="left:635px;top:744px;width:560px;height:1px;background:#e3f3ea"></div>
 <div class="a" style="left:635px;top:756px;width:560px;height:1px;background:#e3f3ea"></div>
</div>
<div class="fb" style="left:607.6px;top:7px;width:580.2px;height:765px"></div>
</body></html>
